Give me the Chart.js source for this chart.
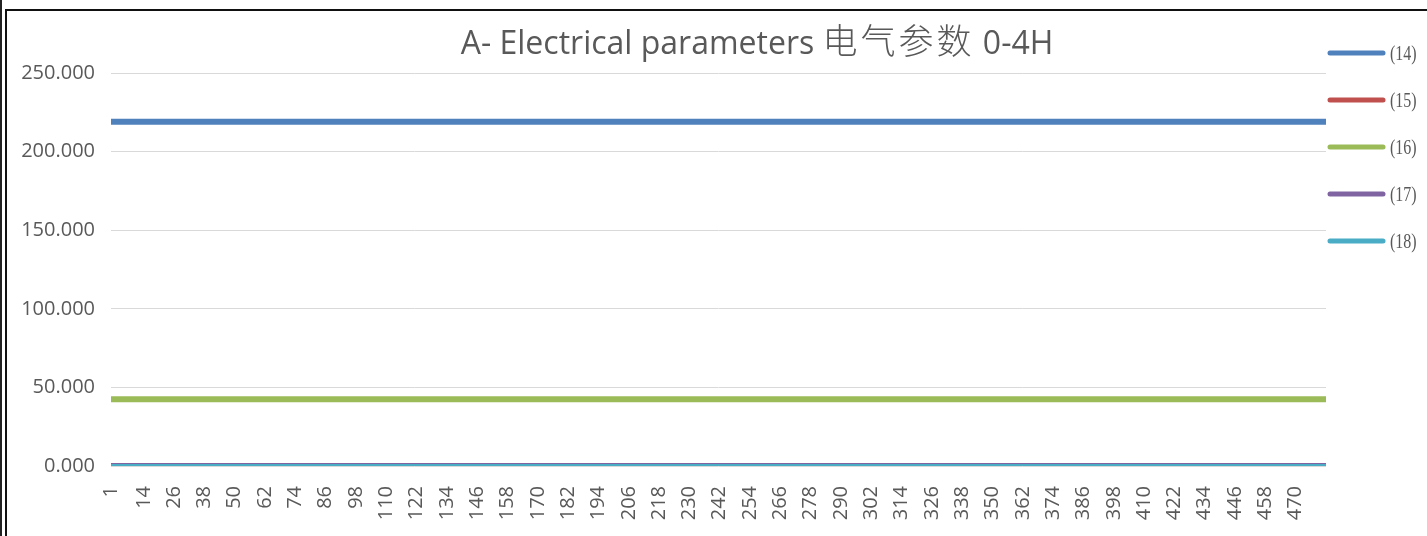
<!DOCTYPE html>
<html>
<head>
<meta charset="utf-8">
<script src="https://cdn.jsdelivr.net/npm/chart.js@4"></script>
<style>
  html, body { margin: 0; padding: 0; background: #fff; }
  #wrap { position: relative; width: 1427px; height: 536px; overflow: hidden; }
  #outer { position: absolute; left: 0; top: 0; width: 2px; height: 536px; background: #222; }
  #frame { position: absolute; left: 5px; top: 9px; right: -4px; bottom: -4px; border-left: 2px solid #111; border-top: 2px solid #111; }
  canvas { position: absolute; left: 0; top: 0; }
</style>
</head>
<body>
<div id="wrap">
  <div id="outer"></div>
  <div id="frame"></div>
  <canvas id="chart" width="1427" height="536"></canvas>
</div>
<script>
// chart values
const titleParts = ["A- Electrical parameters ", "电气参数", " 0-4H"];
const seriesNames = ["(14)", "(15)", "(16)", "(17)", "(18)"];
const seriesLevels = [219, 0, 42.5, 0, 0];
const seriesColors = ["#4f81bd", "#c0504d", "#9bbb59", "#8064a2", "#4bacc6"];
const sampleRange = [1, 482];
const xTickLabels = [1, 14, 26, 38, 50, 62, 74, 86, 98, 110, 122, 134, 146, 158, 170, 182,
  194, 206, 218, 230, 242, 254, 266, 278, 290, 302, 314, 326, 338, 350, 362, 374, 386,
  398, 410, 422, 434, 446, 458, 470];
const yTickValues = [0, 50, 100, 150, 200, 250];

const datasets = seriesNames.map((name, i) => ({
  label: name,
  data: sampleRange.map(x => ({ x: x, y: seriesLevels[i] })),
  borderColor: seriesColors[i],
  backgroundColor: seriesColors[i],
  borderWidth: i === 4 ? 4 : 6,
  pointRadius: 0,
  borderCapStyle: "butt",
  order: 4 - i
}));

// title + legend drawn at the spots Excel put them
const sideBits = {
  id: "sideBits",
  afterDraw(chart) {
    const ctx = chart.ctx;
    ctx.save();
    ctx.fillStyle = "#595959";
    ctx.textBaseline = "alphabetic";
    ctx.textAlign = "left";
    // latin bits are smaller than the CJK bit, so draw in pieces
    const fonts = [
      '32px "Open Sans", sans-serif',
      '300 35px "Noto Sans CJK SC", sans-serif',
      '32px "Open Sans", sans-serif'
    ];
    const spacing = ["0px", "3px", "0px"];
    const widths = titleParts.map((t, i) => {
      ctx.font = fonts[i];
      ctx.letterSpacing = spacing[i];
      return ctx.measureText(t).width;
    });
    let x = 757 - widths.reduce((a, b) => a + b, 0) / 2;
    titleParts.forEach((t, i) => {
      ctx.font = fonts[i];
      ctx.letterSpacing = spacing[i];
      ctx.fillText(t, x, 54);
      x += widths[i];
    });
    ctx.letterSpacing = "0px";

    chart.data.datasets.forEach((ds, i) => {
      const y = 53 + i * 47;
      ctx.strokeStyle = ds.borderColor;
      ctx.lineWidth = 5;
      ctx.lineCap = "round";
      ctx.beginPath();
      ctx.moveTo(1330, y);
      ctx.lineTo(1383, y);
      ctx.stroke();
      ctx.save();
      ctx.translate(1390, y + 7);
      ctx.scale(0.8, 1);
      ctx.font = '20px "Liberation Serif", serif';
      ctx.fillStyle = "#595959";
      ctx.fillText(ds.label, 0, 0);
      ctx.restore();
    });
    ctx.restore();
  }
};

new Chart(document.getElementById("chart").getContext("2d"), {
  type: "line",
  data: { datasets: datasets },
  plugins: [sideBits],
  options: {
    responsive: false,
    animation: false,
    layout: { padding: { left: 0, right: 101, top: 73, bottom: 0 } },
    plugins: {
      legend: { display: false },
      title: { display: false },
      tooltip: { enabled: false }
    },
    scales: {
      x: {
        type: "linear",
        min: sampleRange[0],
        max: sampleRange[1],
        grid: { display: false },
        border: { display: false },
        afterBuildTicks: scale => {
          scale.ticks = xTickLabels.map(v => ({ value: v }));
        },
        afterFit: scale => { scale.height = 70; },
        ticks: {
          autoSkip: false,
          minRotation: 90,
          maxRotation: 90,
          padding: 12,
          color: "#595959",
          font: { family: '"Open Sans", sans-serif', size: 20 },
          callback: v => String(v)
        }
      },
      y: {
        min: 0,
        max: 250,
        afterBuildTicks: scale => {
          scale.ticks = yTickValues.map(v => ({ value: v }));
        },
        afterFit: scale => { scale.width = 111; },
        grid: { color: "#d9d9d9", lineWidth: 1, drawTicks: false },
        border: { display: false },
        ticks: {
          padding: 16,
          color: "#595959",
          font: { family: '"Open Sans", sans-serif', size: 20 },
          callback: v => v.toFixed(3)
        }
      }
    }
  }
});
</script>
</body>
</html>
